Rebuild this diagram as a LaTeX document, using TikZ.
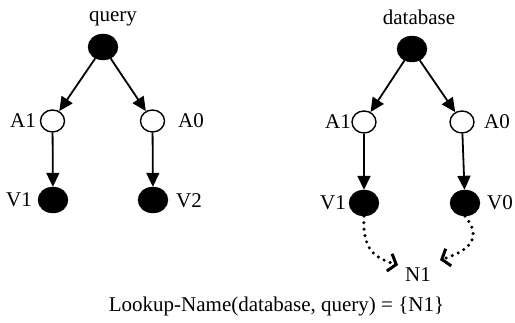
\documentclass[tikz,border=0pt]{standalone}
\usepackage{fontspec}
\setmainfont{Liberation Serif}
\usetikzlibrary{arrows.meta,shapes.geometric}
\begin{document}
\begin{tikzpicture}[x=1pt,y=-1pt,
  every node/.style={font=\fontsize{21}{25}\selectfont, inner sep=0pt},
  fnode/.style={ellipse, draw=black, fill=black, minimum width=30pt, minimum height=26pt},
  onode/.style={ellipse, draw=black, fill=white, line width=1.4pt, minimum width=24pt, minimum height=22pt},
  edge/.style={line width=1.8pt, -{Triangle[length=14pt,width=13pt]}},
  dotarrow/.style={line width=3.4pt, line cap=round, dash pattern=on 0pt off 6.5pt,
     -{Straight Barb[length=7pt,width=18pt,line width=3pt]}}
]
\useasboundingbox (0,0) rectangle (515,323);
% left tree
\node[anchor=base] (ql) at (113,22) {query};
\node[fnode] (rl) at (103,47) {};
\node[onode] (a1l) at (52.5,121) {};
\node[onode] (a0l) at (152.5,121) {};
\node[fnode] (v1l) at (53,200) {};
\node[fnode] (v2l) at (153,200) {};
\node[anchor=east] (la1l) at (36,121) {A1};
\node[anchor=west] (la0l) at (178,121) {A0};
\node[anchor=east] (lv1l) at (32,200) {V1};
\node[anchor=west] (lv2l) at (176,201) {V2};
\draw[edge] (rl) -- (a1l);
\draw[edge] (rl) -- (a0l);
\draw[edge] (a1l) -- (v1l);
\draw[edge] (a0l) -- (v2l);
% right tree
\node[anchor=base] (qr) at (419,25) {database};
\node[fnode] (rr) at (412,49) {};
\node[onode] (a1r) at (364,122) {};
\node[onode] (a0r) at (462,122) {};
\node[fnode] (v1r) at (364,203) {};
\node[fnode] (v0r) at (465,203) {};
\node[anchor=east] (la1r) at (351,122) {A1};
\node[anchor=west] (la0r) at (484,122) {A0};
\node[anchor=east] (lv1r) at (346,203) {V1};
\node[anchor=west] (lv0r) at (487,203) {V0};
\draw[edge] (rr) -- (a1r);
\draw[edge] (rr) -- (a0r);
\draw[edge] (a1r) -- (v1r);
\draw[edge] (a0r) -- (v0r);
\node (n1) at (418,275) {N1};
\coordinate (tl) at (398,265);
\coordinate (tr) at (440,260);
\draw[dotarrow] (v1r.south) .. controls (362,250) and (375,258) .. (tl);
\draw[dotarrow] (v0r.south) .. controls (485,240) and (465,252) .. (tr);
\node (cap) at (276.5,306) {Lookup-Name(database, query) = \{N1\}};
\end{tikzpicture}
\end{document}
